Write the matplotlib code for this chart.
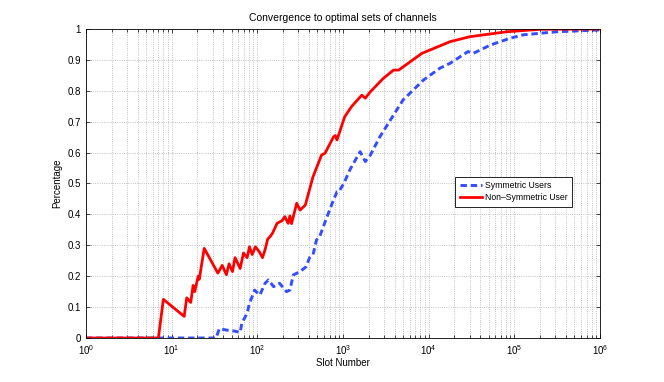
import matplotlib
matplotlib.use("Agg")
import matplotlib.pyplot as plt
from matplotlib.ticker import LogLocator, FixedLocator, NullFormatter

plt.rcParams['font.family'] = ['Liberation Sans', 'DejaVu Sans']
plt.rcParams['mathtext.fontset'] = 'custom'
plt.rcParams['mathtext.rm'] = 'Liberation Sans'

# slot numbers / percentage
sym_slots = [1, 33, 36, 45, 55, 63, 66, 76, 81, 93, 107, 123, 135, 155, 182,
             219, 240, 263, 316, 372, 407, 447, 490, 537, 646, 776, 851, 891,
             1023, 1202, 1259, 1585, 1820, 2089, 2344, 2692, 5012, 8710,
             13490, 17783, 28840, 33113, 52480, 89125, 125893, 309030, 1000000]
sym_pct = [0, 0, 0.03, 0.025, 0.022, 0.018, 0.048, 0.08, 0.112, 0.155, 0.139,
           0.177, 0.188, 0.166, 0.177, 0.150, 0.155, 0.204, 0.215, 0.231,
           0.26, 0.27, 0.317, 0.33, 0.39, 0.447, 0.473, 0.473, 0.5, 0.544,
           0.554, 0.603, 0.571, 0.592, 0.619, 0.651, 0.770, 0.835, 0.873,
           0.889, 0.927, 0.921, 0.948, 0.97, 0.981, 0.991, 0.997]

nonsym_slots = [1, 7, 8, 14, 15, 16.7, 17.8, 18.6, 20.4, 21, 24, 34.6, 38.9,
                43.6, 46.8, 51.3, 55, 63, 69, 76, 81, 87, 95, 105, 115, 123,
                132, 141, 151, 170, 195, 209, 229, 240, 251, 288, 316, 363,
                447, 562, 617, 776, 813, 851, 1047, 1259, 1660, 1820, 2089,
                2951, 3890, 4467, 8318, 17783, 30200, 43650, 81000, 200000,
                1000000]
nonsym_pct = [0, 0, 0.125, 0.07, 0.13, 0.115, 0.17, 0.15, 0.20, 0.19, 0.29,
              0.21, 0.235, 0.205, 0.24, 0.215, 0.26, 0.225, 0.275, 0.26, 0.295,
              0.27, 0.295, 0.28, 0.26, 0.285, 0.32, 0.328, 0.34, 0.371, 0.38,
              0.393, 0.371, 0.395, 0.37, 0.436, 0.414, 0.43, 0.522, 0.592,
              0.598, 0.651, 0.655, 0.641, 0.716, 0.749, 0.786, 0.776, 0.797,
              0.840, 0.867, 0.867, 0.921, 0.959, 0.975, 0.981, 0.991, 0.999,
              1.0]

y_ticks = [0, 0.1, 0.2, 0.3, 0.4, 0.5, 0.6, 0.7, 0.8, 0.9, 1]
y_labels = ['0', '0.1', '0.2', '0.3', '0.4', '0.5', '0.6', '0.7', '0.8', '0.9', '1']

fig = plt.figure(figsize=(6.64, 3.82), dpi=100)
ax = fig.add_axes([0.1295, 0.1152, 0.7741, 0.8089])

ax.plot(sym_slots, sym_pct, color=(0.2, 0.3, 1.0), lw=2.1, ls=(0, (2.2, 1.3)),
        label='Symmetric Users')
ax.plot(nonsym_slots, nonsym_pct, color='red', lw=2.0, label='Non\u2013Symmetric User')

ax.set_xscale('log')
ax.set_xlim(1, 1e6)
ax.set_ylim(0, 1)
ax.xaxis.set_major_locator(LogLocator(base=10, numticks=10))
ax.xaxis.set_minor_locator(LogLocator(base=10, subs=range(2, 10), numticks=100))
ax.xaxis.set_minor_formatter(NullFormatter())
ax.yaxis.set_major_locator(FixedLocator(y_ticks))
ax.set_yticklabels(y_labels)

ax.grid(True, which='major', ls=':', color='#b0b0b0', lw=0.6)
ax.grid(True, which='minor', axis='x', ls=':', color='#b0b0b0', lw=0.6)
ax.tick_params(which='both', direction='in', top=True, right=True,
               labelsize=7, length=3, width=0.5)
ax.tick_params(which='minor', length=2)
for s in ax.spines.values():
    s.set_linewidth(0.6)

ax.set_title('Convergence to optimal sets of channels', fontsize=7.5, pad=6)
ax.set_xlabel('Slot Number', fontsize=7, labelpad=1)
ax.set_ylabel('Percentage', fontsize=7, labelpad=4)

leg = ax.legend(loc='upper left', bbox_to_anchor=(0.71, 0.536), fontsize=6.2,
                fancybox=False, framealpha=1, edgecolor='black',
                handlelength=2.6, borderpad=0.5, labelspacing=0.4,
                handletextpad=0.3)
leg.get_frame().set_linewidth(0.6)

fig.savefig('out.png', dpi=100, facecolor='white')
